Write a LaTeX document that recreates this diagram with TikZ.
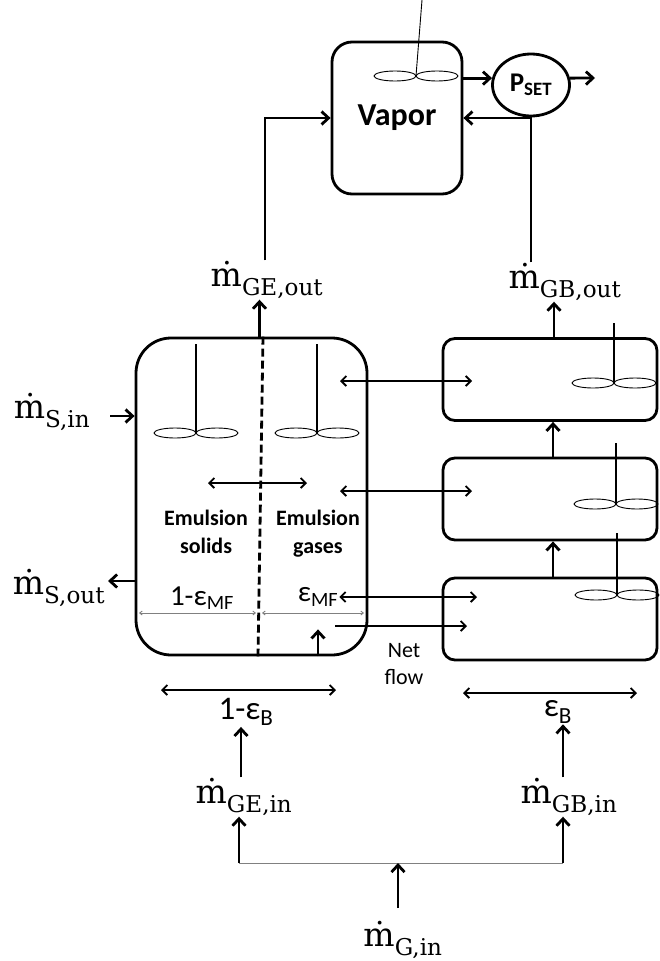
\documentclass[tikz,border=0pt]{standalone}
\usepackage{fontspec}
\newfontfamily\calibri{Carlito}
\newfontfamily\ratefont{DejaVu Serif}
\usetikzlibrary{arrows.meta, calc, shapes.geometric}

% stirrer: shaft at x=#1 from y=#2 down to hub y=#3, two blades
\newcommand{\impeller}[3]{%
  \draw[shaft] (#1,#2) -- (#1,#3);
  \draw[blade] (#1-21,#3) ellipse (21 and 5) (#1+21,#3) ellipse (21 and 5);
}
\newcommand{\mrate}[1]{ṁ\textsubscript{#1}}

\begin{document}
\begin{tikzpicture}[
    x=1pt, y=-1pt,
    >={Straight Barb[length=7pt,width=13pt]},
    vessel/.style={draw, line width=2.8pt, inner sep=0pt},
    flow/.style={->, line width=2.8pt},
    thinflow/.style={-{Straight Barb[length=5pt,width=10pt]}, line width=1.8pt},
    swap/.style={{Straight Barb[length=5pt,width=10pt]}-{Straight Barb[length=5pt,width=10pt]}, line width=1.8pt},
    dimline/.style={{Straight Barb[length=2.5pt,width=4pt]}-{Straight Barb[length=2.5pt,width=4pt]}, gray, line width=0.9pt},
    shaft/.style={line width=1.6pt},
    blade/.style={line width=0.9pt},
    rate/.style={inner sep=1pt, font=\ratefont\fontsize{33}{38}\selectfont},
    frac/.style={inner sep=1pt, font=\calibri\fontsize{29}{32}\selectfont},
    tag/.style={align=center, font=\calibri\bfseries\fontsize{22}{28}\selectfont},
]
\useasboundingbox (0,0) rectangle (659,961);

% vessels
\node[vessel, rounded corners=20pt, minimum width=130pt, minimum height=152pt,
      font=\calibri\bfseries\fontsize{32}{36}\selectfont] (vapor) at (397,118) {Vapor};
\node[vessel, ellipse, minimum width=77pt, minimum height=62pt,
      font=\calibri\bfseries\fontsize{27}{29}\selectfont] (pset) at (531,85) {P\textsubscript{SET}};
\node[vessel, rounded corners=35pt, minimum width=231pt, minimum height=317pt] (emul) at (251.5,496.5) {};
\foreach \n/\y in {1/379.5, 2/499, 3/619}
   \node[vessel, rounded corners=12pt, minimum width=214pt, minimum height=82pt] (bub\n) at (550,\y) {};

% split between emulsion solids and gases
\draw[line width=2.8pt, dash pattern=on 8pt off 4pt] ([xshift=11.5]emul.north) -- ([xshift=6.5]emul.south);

% stirrers
\draw[shaft, line width=0.9pt] (422,0) -- (416,76);
\draw[blade] (395,76) ellipse (21 and 5) (437,76) ellipse (21 and 5);
\impeller{196}{344}{433}
\impeller{317}{344}{433}
\impeller{614}{323}{383}
\impeller{616}{443}{504}
\impeller{617}{533}{595}

% flow rates
\node[rate] (mgeout) at (267,280) {\mrate{GE,out}};
\node[rate] (mgbout) at (565,282) {\mrate{GB,out}};
\node[rate] (msin)   at (52,412)  {\mrate{S,in}};
\node[rate] (msout)  at (59,588)  {\mrate{S,out}};
\node[rate] (mgein)  at (244,797) {\mrate{GE,in}};
\node[rate] (mgbin)  at (569,797) {\mrate{GB,in}};
\node[rate] (mgin)   at (403,940) {\mrate{G,in}};

% volume fractions
\node[frac] (onemf) at (202,598) {1-ε\textsubscript{MF}};
\node[frac] (mf)    at (318,597) {ε\textsubscript{MF}};
\node[frac, font=\calibri\fontsize{33}{36}\selectfont] (oneb) at (246,712) {1-ε\textsubscript{B}};
\node[frac, font=\calibri\fontsize{33}{36}\selectfont] (epsb) at (558,712) {ε\textsubscript{B}};

\node[tag] (solids) at (206,532) {Emulsion\\solids};
\node[tag] (gases)  at (318,534) {Emulsion\\gases};
\node[align=center, font=\calibri\fontsize{22}{27}\selectfont] (net) at (404,664) {Net\\flow};

% free ends
\coordinate (vent)    at (595,78);
\coordinate (sinfeed) at (110,416);
\coordinate (soutend) at (108,581);
\coordinate (ginfeed) at (398,908);
\coordinate (split)   at (398,863);
\coordinate (gl)      at (239,863);
\coordinate (gr)      at (563,863);

% vapor space and pressure control
\draw[flow] ([xshift=-2]mgeout.north) |- (vapor.west);
\draw[flow] (mgbout.north -| pset.south) |- (vapor.east);
\draw[flow] (vapor.east |- pset.170) -- (pset.170);
\draw[flow] (pset.10) -- (vent);

% outlets
\draw[flow] ([xshift=8]emul.north) -- ([xshift=8]emul.north |- mgeout.south);
\draw[flow] ([xshift=4]bub1.north) -- ([xshift=4]bub1.north |- mgbout.south);
\draw[flow] ([xshift=3]bub2.north) -- ([xshift=3]bub1.south);
\draw[flow] ([xshift=3]bub3.north) -- ([xshift=3]bub2.south);

% solids feed and draw-off
\draw[flow] (sinfeed) -- (sinfeed -| emul.west);
\draw[flow] (soutend -| emul.west) -- (soutend);

% exchange between phases
\draw[swap] (340,381) -- (472,381);
\draw[swap] (208,483) -- (307,483);
\draw[swap] (340,491) -- (472,491);
\draw[swap] (mf.east) -- (477,597);
\draw[thinflow] (335,626) -- (467,626);
\draw[flow] (emul.south -| mf) -- ++(0,-27);
\draw[dimline] (139,613) -- (256,613);
\draw[dimline] (262,613) -- (364,613);

% bed fractions
\draw[swap] (161,690) -- (336,690);
\draw[swap] (463,693) -- (637,693);

% gas feed
\draw[flow] ([xshift=-3]mgein.north) -- ([xshift=-3]mgein.north |- oneb.south);
\draw[flow] ([xshift=-6]mgbin.north) -- ([xshift=-6]mgbin.north |- epsb.south);
\draw[gray, line width=1pt] (gl) -- (gr);
\draw[flow] (gl) -- (gl |- mgein.south);
\draw[flow] (gr) -- (gr |- mgbin.south);
\draw[flow] (ginfeed) -- (split);
\end{tikzpicture}
\end{document}
